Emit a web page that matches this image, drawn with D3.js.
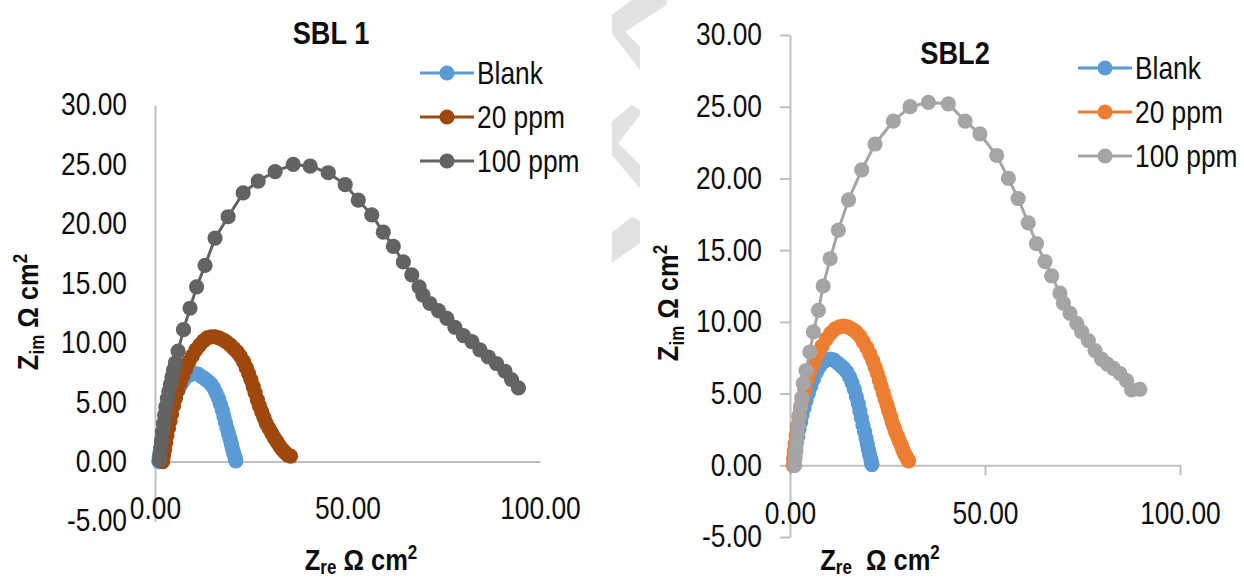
<!DOCTYPE html>
<html>
<head>
<meta charset="utf-8">
<script src="https://cdn.jsdelivr.net/npm/d3@7/dist/d3.min.js"></script>
<style>
  html, body { margin: 0; padding: 0; background: #fff; }
  svg { display: block; }
  text { font-family: "Liberation Sans", Arial, sans-serif; fill: #0d0d0d; }
</style>
</head>
<body>
<svg id="fig" width="1244" height="578"></svg>
<script>
// Nyquist data: [Z_re, Z_im] in Ω cm²
const blank = [[1.0,0.0],[1.1,0.4],[1.3,0.8],[1.5,1.2],[1.7,1.6],[2.0,2.0],[2.3,2.5],[2.7,3.0],[3.1,3.5],[3.6,4.0],[4.1,4.5],[4.7,5.0],[5.3,5.5],[6.0,6.0],[6.8,6.5],[7.6,6.9],[8.5,7.2],[9.4,7.35],[10.3,7.4],[11.2,7.35],[12.1,7.15],[13.0,6.95],[13.8,6.75],[14.6,6.5],[15.3,6.15],[15.9,5.75],[16.5,5.3],[17.0,4.8],[17.5,4.3],[17.9,3.8],[18.3,3.3],[18.7,2.8],[19.1,2.35],[19.5,1.9],[19.8,1.5],[20.1,1.1],[20.4,0.75],[20.7,0.45],[20.9,0.2],[21.0,0.05]];

const sbl1Ppm20 = [[2.0,0.0],[2.2,0.5],[2.5,1.0],[2.8,1.6],[3.1,2.2],[3.5,2.8],[3.9,3.4],[4.3,4.0],[4.8,4.7],[5.3,5.3],[5.9,6.0],[6.5,6.6],[7.2,7.2],[8.0,7.8],[8.8,8.4],[9.7,8.9],[10.6,9.4],[11.6,9.8],[12.6,10.15],[13.6,10.4],[14.6,10.5],[15.6,10.5],[16.6,10.4],[17.6,10.25],[18.6,10.05],[19.6,9.8],[20.5,9.5],[21.4,9.2],[22.2,8.85],[23.0,8.4],[23.7,7.9],[24.3,7.4],[24.9,6.9],[25.5,6.3],[26.0,5.8],[26.6,5.2],[27.1,4.7],[27.7,4.2],[28.3,3.7],[28.9,3.2],[29.6,2.8],[30.3,2.4],[31.0,2.0],[31.7,1.65],[32.4,1.3],[33.1,1.0],[33.8,0.75],[34.5,0.55],[35.2,0.45]];

const sbl1Ppm100 = [[1.1,0.1],[1.3,0.6],[1.5,1.2],[1.7,1.8],[1.9,2.5],[2.2,3.2],[2.5,3.9],[2.8,4.6],[3.2,5.3],[3.6,5.9],[4.0,6.5],[4.4,7.1],[4.8,7.7],[5.3,8.3],[6.0,9.3],[7.4,11.1],[9.1,12.9],[10.8,14.7],[13.0,16.5],[15.6,18.8],[19.0,20.6],[22.9,22.6],[26.8,23.6],[31.2,24.4],[35.9,25.0],[40.3,24.85],[45.0,24.3],[49.4,23.3],[52.8,22.0],[56.3,20.75],[59.3,19.3],[61.9,18.1],[64.5,16.8],[66.7,15.7],[68.6,14.7],[69.6,14.0],[71.4,13.3],[73.6,12.7],[75.8,12.05],[77.9,11.3],[80.1,10.6],[82.3,10.1],[84.4,9.4],[86.6,8.8],[88.7,8.25],[90.9,7.6],[92.6,6.9],[94.4,6.2]];

const sbl2Ppm20 = [[0.8,0.0],[0.9,0.5],[1.1,1.0],[1.3,1.5],[1.6,2.1],[1.9,2.7],[2.3,3.4],[2.7,4.0],[3.2,4.6],[3.8,5.3],[4.5,6.0],[5.3,6.6],[6.2,7.2],[7.2,7.8],[8.2,8.3],[9.3,8.8],[10.4,9.2],[11.5,9.5],[12.6,9.65],[13.7,9.7],[14.8,9.65],[15.9,9.5],[16.9,9.3],[17.9,9.0],[18.8,8.6],[19.7,8.2],[20.5,7.75],[21.2,7.3],[21.8,6.85],[22.4,6.4],[22.9,5.95],[23.4,5.5],[23.9,5.05],[24.4,4.6],[24.9,4.2],[25.3,3.8],[25.8,3.4],[26.2,3.0],[26.7,2.65],[27.1,2.3],[27.6,2.0],[28.0,1.7],[28.5,1.4],[28.9,1.1],[29.3,0.85],[29.7,0.65],[30.1,0.45],[30.4,0.3]];

const sbl2Ppm100 = [[1.2,0.0],[1.3,0.5],[1.5,1.0],[1.7,1.6],[1.9,2.2],[2.1,2.8],[2.4,3.5],[2.7,4.1],[3.0,4.7],[3.4,5.7],[4.1,6.6],[5.1,7.9],[6.0,9.3],[7.3,10.8],[8.5,12.5],[10.3,14.4],[12.4,16.4],[15.0,18.5],[18.4,20.6],[21.8,22.4],[26.5,24.0],[30.8,25.0],[35.5,25.3],[40.6,25.2],[44.9,24.0],[48.7,23.1],[53.0,21.6],[56.0,20.0],[58.5,18.6],[61.1,16.9],[63.2,15.45],[65.4,14.2],[67.1,13.2],[69.2,12.0],[70.1,11.3],[71.8,10.6],[73.5,9.9],[74.8,9.3],[76.5,8.7],[78.2,8.0],[79.9,7.4],[81.4,7.05],[82.9,6.75],[84.6,6.4],[86.3,5.9],[87.6,5.25],[89.7,5.3]];

const seriesNames = ["Blank", "20 ppm", "100 ppm"];
const xTicks = [0, 50, 100];
const yTicks = [-5, 0, 5, 10, 15, 20, 25, 30];

// condensed lettering: regular glyphs squeezed horizontally
const SQ = 0.85;
const FS = 31;
const R = 7.6;

const svg = d3.select("#fig");

// faint chevron marks in the gutter between the two panels
const chevrons = [
  "M611.7,15 L631.7,0 L666.7,0 L666.7,5 L625,31.7 L640,46.7 L640,70 L611.7,33.3 Z",
  "M631.7,105 L640,110 L640,115 L618.3,143.3 L640,165 L640,188.3 L611.7,155 L611.7,121.7 Z",
  "M631.7,216.7 L640,221 L640,243 L611.7,263 L611.7,233 Z"
];
svg.append("g").selectAll("path").data(chevrons).join("path")
  .attr("d", d => d).attr("fill", "#e2e2e2");

// two decimals, plain hyphen for negatives
const fmt = d => d.toFixed(2);

// text placed at (x, y) and squeezed around that point
function label(parent, x, y, extra) {
  return parent.append("g")
    .attr("transform", `translate(${x},${y}) ${extra || ""} scale(${SQ},1)`)
    .append("text");
}

function panel(cfg) {
  const g = svg.append("g");
  const x = d3.scaleLinear().domain([0, 100]).range(cfg.xRange);
  const y = d3.scaleLinear().domain([-5, 30]).range(cfg.yRange);

  // value axis
  const ya = g.append("g").attr("transform", `translate(${x(0)},0)`)
    .call(d3.axisLeft(y).tickValues(yTicks).tickFormat(fmt)
      .tickSize(cfg.tick).tickSizeOuter(0).tickPadding(cfg.yPad));
  // category axis crossing at Z_im = 0
  const xa = g.append("g").attr("transform", `translate(0,${y(0)})`)
    .call(d3.axisBottom(x).tickValues(xTicks).tickFormat(fmt)
      .tickSize(cfg.tick).tickSizeOuter(0).tickPadding(cfg.xPad));
  [ya, xa].forEach(a => {
    a.select(".domain").attr("stroke", "#bfbfbf").attr("stroke-width", 2);
    a.selectAll(".tick line").attr("stroke", "#bfbfbf").attr("stroke-width", 2);
    a.selectAll(".tick text").attr("font-size", FS).attr("fill", "#0d0d0d")
      .attr("font-family", '"Liberation Sans", Arial, sans-serif')
      .attr("transform", `scale(${SQ},1)`);
  });
  ya.selectAll(".tick text").attr("x", -(cfg.tick + cfg.yPad) / SQ);
  if (cfg.tick === 0) xa.selectAll(".tick line").remove();

  const line = d3.line().x(d => x(d[0])).y(d => y(d[1]));
  cfg.series.forEach((s, i) => {
    const sg = g.append("g");
    sg.append("path").datum(s.data).attr("d", line)
      .attr("fill", "none").attr("stroke", cfg.colors[i]).attr("stroke-width", 3)
      .attr("stroke-linejoin", "round");
    sg.selectAll("circle").data(s.data).join("circle")
      .attr("cx", d => x(d[0])).attr("cy", d => y(d[1])).attr("r", R)
      .attr("fill", cfg.colors[i]);
  });

  // title
  label(g, cfg.title[0], cfg.title[1])
    .attr("text-anchor", "middle").attr("font-size", 32).attr("font-weight", "bold")
    .text(cfg.titleText);

  // legend
  const lg = g.append("g");
  seriesNames.forEach((n, i) => {
    const ly = cfg.legend[1] + i * 44;
    lg.append("line").attr("x1", cfg.legend[0]).attr("x2", cfg.legend[0] + 54)
      .attr("y1", ly).attr("y2", ly).attr("stroke", cfg.colors[i]).attr("stroke-width", 3);
    lg.append("circle").attr("cx", cfg.legend[0] + 27).attr("cy", ly).attr("r", R)
      .attr("fill", cfg.colors[i]);
    label(lg, cfg.legend[0] + 57, ly + 11).attr("font-size", FS).text(n);
  });

  // axis titles
  const yt = label(g, cfg.yTitle[0], cfg.yTitle[1], "rotate(-90)")
    .attr("text-anchor", "middle").attr("font-size", 30).attr("font-weight", "bold");
  yt.append("tspan").text("Z");
  yt.append("tspan").attr("font-size", 20).attr("dy", 6).text("im");
  yt.append("tspan").attr("dy", -6).text(" Ω cm");
  yt.append("tspan").attr("font-size", 20).attr("dy", -11).text("2");

  const xt = label(g, cfg.xTitle[0], cfg.xTitle[1])
    .attr("text-anchor", "middle").attr("font-size", 30).attr("font-weight", "bold")
    .attr("xml:space", "preserve");
  xt.append("tspan").text("Z");
  xt.append("tspan").attr("font-size", 20).attr("dy", 4).text("re");
  xt.append("tspan").attr("dy", -4).text(cfg.xTitleGap + "Ω cm");
  xt.append("tspan").attr("font-size", 20).attr("dy", -11).text("2");
}

panel({
  xRange: [155, 540], yRange: [521, 105], tick: 0, yPad: 28, xPad: 35,
  colors: ["#5b9bd5", "#9e480e", "#636363"],
  series: [{data: blank}, {data: sbl1Ppm20}, {data: sbl1Ppm100}],
  title: [331, 44], titleText: "SBL 1",
  legend: [420, 73],
  yTitle: [38, 312], xTitle: [361, 570], xTitleGap: " "
});

panel({
  xRange: [790, 1180], yRange: [537, 35], tick: 10, yPad: 18, xPad: 27,
  colors: ["#5b9bd5", "#ed7d31", "#a5a5a5"],
  series: [{data: blank}, {data: sbl2Ppm20}, {data: sbl2Ppm100}],
  title: [955, 64], titleText: "SBL2",
  legend: [1078, 68],
  yTitle: [678, 303], xTitle: [880, 570], xTitleGap: "  "
});
</script>
</body>
</html>
